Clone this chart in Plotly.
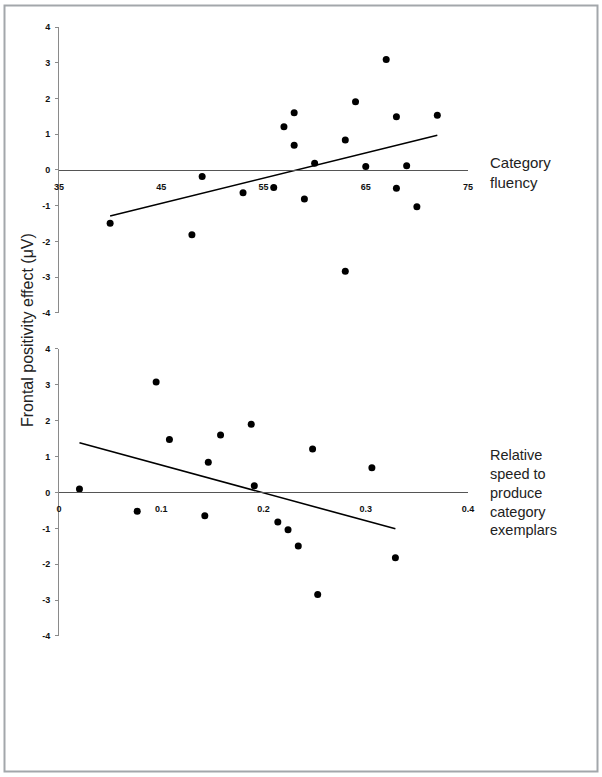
import numpy as np
import plotly.graph_objects as go

# ---- data ----
fluency_x = [40, 48, 49, 53, 56, 57, 58, 58, 59, 60, 63, 63, 64, 65, 67, 68, 68, 69, 70, 72]
fluency_y = [-1.49, -1.81, -0.18, -0.64, -0.49, 1.21, 1.60, 0.69, -0.81, 0.19,
             0.84, -2.83, 1.91, 0.10, 3.09, 1.49, -0.51, 0.12, -1.03, 1.53]

speed_x = [0.020, 0.0765, 0.095, 0.108, 0.1426, 0.146, 0.158, 0.188, 0.191, 0.214,
           0.224, 0.234, 0.248, 0.253, 0.306, 0.329]
speed_y = [0.10, -0.52, 3.08, 1.48, -0.65, 0.84, 1.60, 1.90, 0.19, -0.82,
           -1.04, -1.49, 1.21, -2.84, 0.69, -1.82]

fluency_ticks = [35, 45, 55, 65, 75]
speed_ticks = [0, 0.1, 0.2, 0.3, 0.4]
speed_ticklabels = ["0", "0.1", "0.2", "0.3", "0.4"]
y_ticks = [-4, -3, -2, -1, 0, 1, 2, 3, 4]
y_ticklabels = ["-4", "-3", "-2", "-1", "0", "1", "2", "3", "4"]

y_title = "Frontal positivity effect (\u03bcV)"
label_top = "Category<br>fluency"
label_bottom = "Relative<br>speed to<br>produce<br>category<br>exemplars"

# ---- geometry ----
W, H = 602, 777
ML, MR, MT, MB = 59, 134, 27, 141
PW, PH = W - ML - MR, H - MT - MB
top_dom = [0.5304, 1.0]
bot_dom = [0.0, 0.4713]

FONT = "Liberation Sans, Arial, Helvetica, sans-serif"
tickfont = dict(family=FONT, size=9, color="#111", weight="bold")

def fit_line(x, y):
    x = np.asarray(x, float)
    y = np.asarray(y, float)
    m, b = np.polyfit(x, y, 1)
    xs = np.array([x.min(), x.max()])
    return xs, m * xs + b

def px_x(p):
    return (p - ML) / PW

def px_y(p):
    return (H - MB - p) / PH

fig = go.Figure()

fig.add_trace(go.Scatter(x=fluency_x, y=fluency_y, mode="markers",
                         marker=dict(color="black", size=7),
                         xaxis="x", yaxis="y", showlegend=False))
lx, ly = fit_line(fluency_x, fluency_y)
fig.add_trace(go.Scatter(x=lx, y=ly, mode="lines",
                         line=dict(color="black", width=1.6),
                         xaxis="x", yaxis="y", showlegend=False))

fig.add_trace(go.Scatter(x=speed_x, y=speed_y, mode="markers",
                         marker=dict(color="black", size=7),
                         xaxis="x2", yaxis="y2", showlegend=False))
lx2, ly2 = fit_line(speed_x, speed_y)
fig.add_trace(go.Scatter(x=lx2, y=ly2, mode="lines",
                         line=dict(color="black", width=1.6),
                         xaxis="x2", yaxis="y2", showlegend=False))

yaxis_common = dict(range=[-4, 4], tickvals=y_ticks, ticktext=y_ticklabels,
                    showgrid=False, zeroline=False,
                    showline=True, linecolor="#8a8a8a", linewidth=1,
                    ticks="outside", ticklen=3, tickcolor="#8a8a8a",
                    tickfont=tickfont, ticklabelstandoff=3)

xaxis_common = dict(showgrid=False, zeroline=False, showline=True,
                    linecolor="#555", linewidth=1, ticks="", tickfont=tickfont,
                    ticklabelstandoff=8, anchor="free", domain=[0, 1])

fig.update_layout(
    width=W, height=H,
    margin=dict(l=ML, r=MR, t=MT, b=MB),
    paper_bgcolor="white", plot_bgcolor="white",
    font=dict(family=FONT),
    xaxis=dict(range=[35, 75], tickvals=fluency_ticks,
               position=(top_dom[0] + top_dom[1]) / 2, **xaxis_common),
    yaxis=dict(domain=top_dom, anchor="x", **yaxis_common),
    xaxis2=dict(range=[0, 0.4], tickvals=speed_ticks, ticktext=speed_ticklabels,
                position=(bot_dom[0] + bot_dom[1]) / 2, **xaxis_common),
    yaxis2=dict(domain=bot_dom, anchor="x2", **yaxis_common),
)

# outer frame
fig.add_shape(type="rect", xref="paper", yref="paper",
              x0=px_x(4.5), x1=px_x(597.5), y0=px_y(771.5), y1=px_y(5.5),
              line=dict(color="#a3a7ab", width=2), layer="below")

fig.add_annotation(text=y_title, xref="paper", yref="paper",
                   x=px_x(28), y=px_y(330), textangle=-90,
                   xanchor="center", yanchor="middle",
                   showarrow=False, font=dict(family=FONT, size=16, color="#222"))
fig.add_annotation(text=label_top, xref="paper", yref="paper",
                   x=px_x(488), y=px_y(172), xanchor="left", yanchor="middle", align="left",
                   showarrow=False, font=dict(family=FONT, size=15, color="#222"))
fig.add_annotation(text=label_bottom, xref="paper", yref="paper",
                   x=px_x(488), y=px_y(492), xanchor="left", yanchor="middle", align="left",
                   showarrow=False, font=dict(family=FONT, size=14.5, color="#222"))

fig.write_html("out.html", config={"displayModeBar": False},
               post_script="document.body.style.margin='0';")
